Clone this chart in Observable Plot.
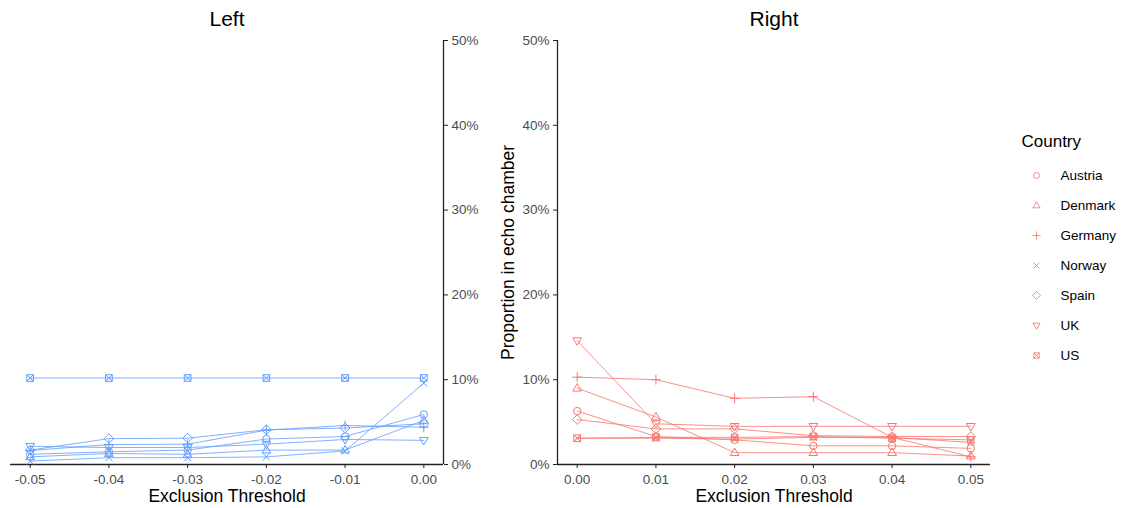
<!DOCTYPE html>
<html>
<head>
<meta charset="utf-8">
<script src="https://cdn.jsdelivr.net/npm/d3@7"></script>
<script src="https://cdn.jsdelivr.net/npm/@observablehq/plot@0.6"></script>
<style>
  html, body { margin: 0; padding: 0; background: #fff; }
  #chart { position: relative; width: 1123px; height: 508px; overflow: hidden; font-family: "Liberation Sans", Arial, sans-serif; }
  #chart svg { position: absolute; top: 0; overflow: visible; }
</style>
</head>
<body>
<div id="chart"></div>
<script>
// ---- data (proportions in percent) ----
const countries = ["Austria", "Denmark", "Germany", "Norway", "Spain", "UK", "US"];
const thresholdsLeft  = [-0.05, -0.04, -0.03, -0.02, -0.01, 0.00];
const thresholdsRight = [0.00, 0.01, 0.02, 0.03, 0.04, 0.05];
const yTicks = [0, 0.1, 0.2, 0.3, 0.4, 0.5];

const leftAustria = [1.2, 1.5, 1.7, 3.0, 3.3, 5.9];
const leftDenmark = [0.9, 1.3, 1.2, 1.7, 1.7, 5.2];
const leftGermany = [1.65, 2.35, 2.4, 4.05, 4.6, 4.4];
const leftNorway  = [0.4, 0.8, 0.8, 0.9, 1.6, 9.6];
const leftSpain   = [1.7, 3.05, 3.1, 4.1, 4.3, 4.8];
const leftUK      = [2.15, 2.0, 2.0, 2.4, 2.95, 2.85];
const leftUS      = [10.2, 10.2, 10.2, 10.2, 10.2, 10.2];

const rightAustria = [6.3, 3.3, 2.9, 2.2, 2.2, 1.9];
const rightDenmark = [9.0, 5.6, 1.4, 1.4, 1.4, 1.0];
const rightGermany = [10.3, 10.0, 7.8, 8.0, 3.2, 0.9];
const rightNorway  = [3.1, 3.1, 3.0, 3.2, 3.2, 2.6];
const rightSpain   = [5.3, 4.2, 4.2, 3.4, 3.3, 3.3];
const rightUK      = [14.6, 4.8, 4.5, 4.5, 4.5, 4.5];
const rightUS      = [3.1, 3.2, 3.2, 3.3, 3.1, 2.9];

const leftSeries  = [leftAustria, leftDenmark, leftGermany, leftNorway, leftSpain, leftUK, leftUS];
const rightSeries = [rightAustria, rightDenmark, rightGermany, rightNorway, rightSpain, rightUK, rightUS];

function toRows(series, xs) {
  const rows = [];
  countries.forEach((c, i) => series[i].forEach((v, j) => rows.push({country: c, x: xs[j], y: v / 100})));
  return rows;
}
const leftRows = toRows(leftSeries, thresholdsLeft);
const rightRows = toRows(rightSeries, thresholdsRight);

// ---- ggplot-like open shapes ----
const rad = (size) => Math.sqrt(size / Math.PI);
const shapes = [
  {draw(c, s) { const r = rad(s); c.moveTo(r, 0); c.arc(0, 0, r, 0, 2 * Math.PI); }},
  {draw(c, s) { const r = rad(s) * 1.25; c.moveTo(0, -r); c.lineTo(r * 0.95, r * 0.62); c.lineTo(-r * 0.95, r * 0.62); c.closePath(); }},
  {draw(c, s) { const r = rad(s) * 1.35; c.moveTo(-r, 0); c.lineTo(r, 0); c.moveTo(0, -r); c.lineTo(0, r); }},
  {draw(c, s) { const r = rad(s) * 0.95; c.moveTo(-r, -r); c.lineTo(r, r); c.moveTo(r, -r); c.lineTo(-r, r); }},
  {draw(c, s) { const r = rad(s) * 1.3; c.moveTo(0, -r); c.lineTo(r, 0); c.lineTo(0, r); c.lineTo(-r, 0); c.closePath(); }},
  {draw(c, s) { const r = rad(s) * 1.25; c.moveTo(0, r); c.lineTo(r * 0.95, -r * 0.62); c.lineTo(-r * 0.95, -r * 0.62); c.closePath(); }},
  {draw(c, s) { const r = rad(s) * 0.9; c.moveTo(-r, -r); c.lineTo(r, -r); c.lineTo(r, r); c.lineTo(-r, r); c.closePath(); c.moveTo(-r, -r); c.lineTo(r, r); c.moveTo(r, -r); c.lineTo(-r, r); }}
];

const FONT = "'Liberation Sans', Arial, sans-serif";
const TICKCOL = "#4D4D4D";
const AXISCOL = "#222";
const BLUE = "#619CFF";
const RED = "#F8766D";
const TICKFS = 13.5;
const TITLEFS = 17.5;
const pct = (d) => Math.round(d * 100) + "%";

function panel({rows, xs, xdomain, color, title, yAnchor, width, marginLeft, marginRight, yLabel}) {
  const marks = [
    Plot.ruleY([0], {stroke: AXISCOL, strokeWidth: 1.3}),
    Plot.ruleX([yAnchor === "right" ? xdomain[1] : xdomain[0]], {y1: 0, y2: 0.5, stroke: AXISCOL, strokeWidth: 1.3}),
    Plot.axisX({ticks: xs, tickFormat: (d) => d.toFixed(2), tickSize: 4, tickPadding: 6, fontSize: TICKFS, fill: TICKCOL, stroke: AXISCOL, label: null}),
    Plot.axisY({anchor: yAnchor, ticks: yTicks, tickFormat: pct, tickSize: 4, tickPadding: 4, fontSize: TICKFS, fill: TICKCOL, stroke: AXISCOL, label: null}),
    Plot.line(rows, {x: "x", y: "y", z: "country", stroke: color, strokeWidth: 1, strokeOpacity: 0.8}),
    Plot.dot(rows, {x: "x", y: "y", symbol: "country", stroke: color, fill: "none", strokeWidth: 1, r: 3.7}),
    Plot.text([title], {frameAnchor: "top", dy: -21, lineAnchor: "middle", fontSize: 21, fill: "#000"}),
    Plot.text(["Exclusion Threshold"], {frameAnchor: "bottom", dy: 32, lineAnchor: "middle", fontSize: TITLEFS, fill: "#000"})
  ];
  if (yLabel) marks.push(Plot.text([yLabel], {frameAnchor: "left", dx: -49, rotate: -90, textAnchor: "middle", lineAnchor: "middle", fontSize: TITLEFS, fill: "#000"}));
  return Plot.plot({
    width, height: 508, marginLeft, marginRight, marginTop: 40, marginBottom: 44,
    x: {domain: xdomain},
    y: {domain: [0, 0.5]},
    symbol: {domain: countries, range: shapes},
    style: {fontFamily: FONT, fontSize: "13px", background: "transparent", overflow: "visible"},
    marks
  });
}

const chart = document.getElementById("chart");

const left = panel({rows: leftRows, xs: thresholdsLeft, xdomain: [-0.0525, 0.0025], color: BLUE, title: "Left",
  yAnchor: "right", width: 500, marginLeft: 10, marginRight: 57});
left.style.left = "0px";
chart.appendChild(left);

const right = panel({rows: rightRows, xs: thresholdsRight, xdomain: [-0.0025, 0.0525], color: RED, title: "Right",
  yAnchor: "left", width: 510, marginLeft: 67, marginRight: 10, yLabel: "Proportion in echo chamber"});
right.style.left = "490px";
chart.appendChild(right);

const legend = Plot.plot({
  width: 123, height: 508, marginLeft: 0, marginRight: 0, marginTop: 0, marginBottom: 0,
  y: {type: "point", domain: countries, range: [173, 357], padding: 0, axis: null},
  symbol: {domain: countries, range: shapes},
  style: {fontFamily: FONT, fontSize: "13px", background: "transparent", overflow: "visible"},
  marks: [
    Plot.text(["Country"], {frameAnchor: "top-left", dx: 21, dy: 141, textAnchor: "start", lineAnchor: "middle", fontSize: 17, fill: "#000"}),
    Plot.dot(countries, {y: (d) => d, frameAnchor: "left", dx: 36, symbol: (d) => d, stroke: RED, fill: "none", strokeWidth: 1, strokeOpacity: 0.85, r: 3}),
    Plot.text(countries, {y: (d) => d, text: (d) => d, frameAnchor: "left", dx: 60, textAnchor: "start", fontSize: TICKFS, fill: "#000"})
  ]
});
legend.style.left = "1000px";
chart.appendChild(legend);
</script>
</body>
</html>
